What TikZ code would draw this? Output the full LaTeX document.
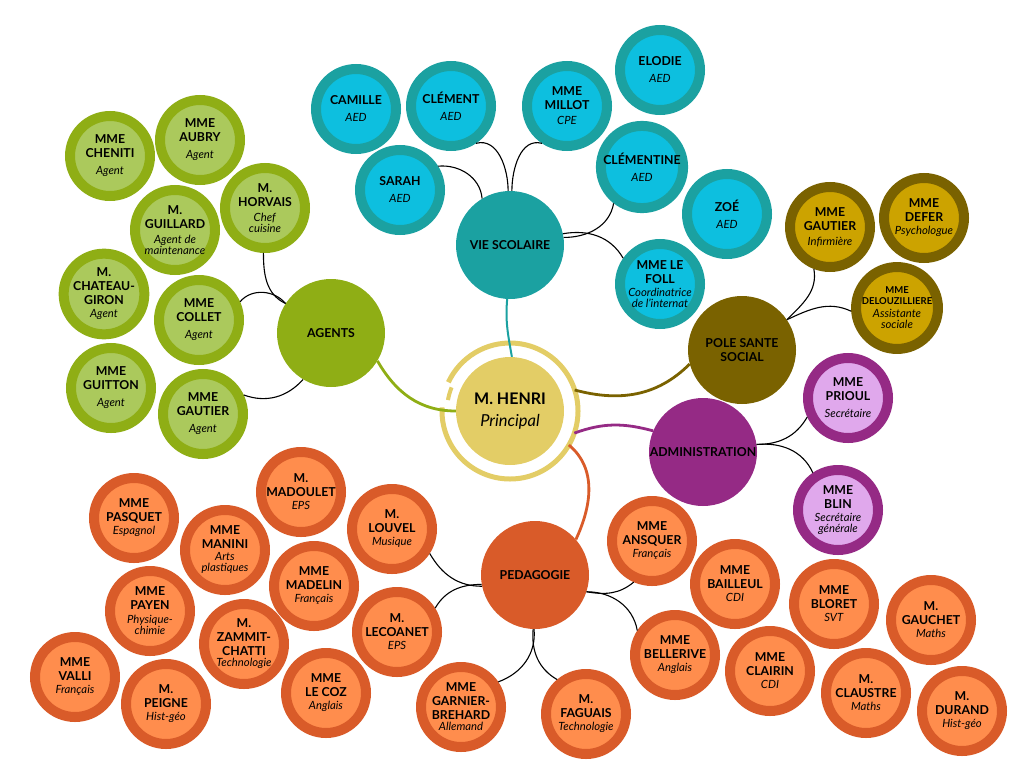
\documentclass[tikz,border=0pt]{standalone}
\usepackage{fontspec}
\setmainfont{Lato}
\definecolor{agents-green}{HTML}{8FAE15}
\definecolor{agents-light}{HTML}{ABC95C}
\definecolor{vie-teal}{HTML}{1BA1A1}
\definecolor{vie-cyan}{HTML}{0DBFDF}
\definecolor{sante-brown}{HTML}{7A6200}
\definecolor{sante-gold}{HTML}{CCA300}
\definecolor{admin-purple}{HTML}{952A85}
\definecolor{admin-pink}{HTML}{E0A8EC}
\definecolor{peda-orange}{HTML}{D95B29}
\definecolor{peda-light}{HTML}{FF8D4D}
\definecolor{henri-gold}{HTML}{E3CD66}
\newcommand\poste[1]{\textit{\mdseries\fontsize{11.3}{12}\selectfont #1}}
\tikzset{
    leaf/.style 2 args={circle, draw=#1, fill=#2, line width=10pt, minimum size=80pt,
        inner sep=0pt, align=center, font=\bfseries\fontsize{12.3}{14}\selectfont},
    agentleaf/.style={leaf={agents-green}{agents-light}},
    vieleaf/.style={leaf={vie-teal}{vie-cyan}},
    santeleaf/.style={leaf={sante-brown}{sante-gold}},
    adminleaf/.style={leaf={admin-purple}{admin-pink}},
    pedaleaf/.style={leaf={peda-orange}{peda-light}},
    hub/.style={circle, fill=#1, minimum size=108pt, inner sep=0pt, align=center,
        font=\bfseries\fontsize{12.3}{14}\selectfont},
    link/.style={black, line width=1.1pt},
    branch/.style={draw=#1, line width=2.8pt}
}

\begin{document}
\begin{tikzpicture}[x=1pt, y=-1pt]
\useasboundingbox (0,0) rectangle (1024,768);

\node[hub=henri-gold, font=\bfseries\fontsize{16}{20}\selectfont] (henri) at (510,411)
    {M. HENRI\\[2pt]\textit{\mdseries\fontsize{16.5}{18}\selectfont Principal}};
\node[circle, minimum size=136pt, inner sep=0pt, outer sep=0pt] (henriring) at (henri) {};
\draw[henri-gold, line width=5pt] ([shift={(177:68pt)}]henri.center) arc[start angle=177, end angle=515, radius=68pt];
\draw[henri-gold, line width=4pt] ([shift={(158:63pt)}]henri.center) arc[start angle=158, end angle=170, radius=63pt];

\node[hub=agents-green] (agents) at (331,333) {AGENTS};
\node[agentleaf] (cheniti) at (110,156) {MME\\CHENITI\\[3pt]\poste{Agent}};
\node[agentleaf] (aubry) at (200,140) {MME\\AUBRY\\[3pt]\poste{Agent}};
\node[agentleaf] (horvais) at (265,208) {M.\\HORVAIS\\[1pt]\poste{Chef}\\[-3pt]\poste{cuisine}};
\node[agentleaf] (guillard) at (175,230) {M.\\GUILLARD\\[1pt]\poste{Agent de}\\[-3pt]\poste{maintenance}};
\node[agentleaf] (chateaugiron) at (104,294) {M.\\CHATEAU-\\GIRON\\[-1pt]\poste{Agent}};
\node[agentleaf] (collet) at (199,320) {MME\\COLLET\\[3pt]\poste{Agent}};
\node[agentleaf] (guitton) at (111,388) {MME\\GUITTON\\[3pt]\poste{Agent}};
\node[agentleaf] (gautiera) at (203,414) {MME\\GAUTIER\\[3pt]\poste{Agent}};

\node[hub=vie-teal] (vie) at (510,245) {VIE SCOLAIRE};
\node[vieleaf] (camille) at (356,109) {CAMILLE\\[3pt]\poste{AED}};
\node[vieleaf] (clement) at (451,106) {CLÉMENT\\[3pt]\poste{AED}};
\node[vieleaf] (millot) at (567,106) {MME\\MILLOT\\[1pt]\poste{CPE}};
\node[vieleaf] (elodie) at (660,70) {ELODIE\\[3pt]\poste{AED}};
\node[vieleaf] (sarah) at (400,190) {SARAH\\[3pt]\poste{AED}};
\node[vieleaf] (clementine) at (642,167) {CLÉMENTINE\\[3pt]\poste{AED}};
\node[vieleaf] (zoe) at (727,214) {ZOÉ\\[3pt]\poste{AED}};
\node[vieleaf] (lefoll) at (660,284) {MME LE\\FOLL\\[-1pt]\poste{Coordinatrice}\\[-3pt]\poste{de l'internat}};

\node[hub=sante-brown] (sante) at (742,350) {POLE SANTE\\SOCIAL};
\node[santeleaf] (gautieri) at (830,227) {MME\\GAUTIER\\[1pt]\poste{Infirmière}};
\node[santeleaf] (defer) at (924,218) {MME\\DEFER\\[-1pt]\poste{Psychologue}};
\node[santeleaf] (delou) at (897,308) {{\fontsize{9.5}{11}\selectfont MME}\\[-3pt]{\fontsize{9.5}{11}\selectfont DELOUZILLIERE}\\[-1pt]\poste{Assistante}\\[-3pt]\poste{sociale}};

\node[hub=admin-purple] (admin) at (703,452) {ADMINISTRATION};
\node[adminleaf] (prioul) at (848,398) {MME\\PRIOUL\\[3pt]\poste{Secrétaire}};
\node[adminleaf] (blin) at (838,510) {MME\\BLIN\\[-1pt]\poste{Secrétaire}\\[-3pt]\poste{générale}};

\node[hub=peda-orange] (peda) at (535,575) {PEDAGOGIE};
\node[pedaleaf] (pasquet) at (134,518) {MME\\PASQUET\\[-1pt]\poste{Espagnol}};
\node[pedaleaf] (madoulet) at (301,492) {M.\\MADOULET\\[-1pt]\poste{EPS}};
\node[pedaleaf] (louvel) at (392,529) {M.\\LOUVEL\\[-1pt]\poste{Musique}};
\node[pedaleaf] (manini) at (225,550) {MME\\MANINI\\[-2pt]\poste{Arts}\\[-3pt]\poste{plastiques}};
\node[pedaleaf] (madelin) at (314,586) {MME\\MADELIN\\[-1pt]\poste{Français}};
\node[pedaleaf] (payen) at (150,611) {MME\\PAYEN\\[0pt]\poste{Physique-}\\[-3pt]\poste{chimie}};
\node[pedaleaf] (zammit) at (244,644) {M.\\ZAMMIT-\\CHATTI\\[-3pt]\poste{Technologie}};
\node[pedaleaf] (lecoanet) at (397,632) {M.\\LECOANET\\[-1pt]\poste{EPS}};
\node[pedaleaf] (valli) at (75,677) {MME\\VALLI\\[-1pt]\poste{Français}};
\node[pedaleaf] (peigne) at (166,704) {M.\\PEIGNE\\[-1pt]\poste{Hist-géo}};
\node[pedaleaf] (lecoz) at (326,693) {MME\\LE COZ\\[-1pt]\poste{Anglais}};
\node[pedaleaf] (ansquer) at (652,541) {MME\\ANSQUER\\[-1pt]\poste{Français}};
\node[pedaleaf] (bailleul) at (735,584) {MME\\BAILLEUL\\[-1pt]\poste{CDI}};
\node[pedaleaf] (bellerive) at (675,655) {MME\\BELLERIVE\\[-1pt]\poste{Anglais}};
\node[pedaleaf] (garnier) at (461,707) {MME\\GARNIER-\\BREHARD\\[-3pt]\poste{Allemand}};
\node[pedaleaf] (faguais) at (586,714) {M.\\FAGUAIS\\[-1pt]\poste{Technologie}};
\node[pedaleaf] (bloret) at (834,604) {MME\\BLORET\\[-1pt]\poste{SVT}};
\node[pedaleaf] (gauchet) at (931,620) {M.\\GAUCHET\\[-1pt]\poste{Maths}};
\node[pedaleaf] (clairin) at (770,671) {MME\\CLAIRIN\\[-1pt]\poste{CDI}};
\node[pedaleaf] (claustre) at (866,693) {M.\\CLAUSTRE\\[-1pt]\poste{Maths}};
\node[pedaleaf] (durand) at (962,711) {M.\\DURAND\\[-1pt]\poste{Hist-géo}};

\draw[link] (horvais.268) to[out=-90, in=155] (agents.147);
\draw[link] (collet.24) to[out=50, in=130] (agents.147);
\draw[link] (gautiera.25) to[out=-20, in=228] (agents.239);
\draw[branch=agents-green] (agents.-31) to[out=-60, in=180] (henri.180);

\draw[link] (sarah.32) to[out=5, in=95] (vie.121);
\draw[link] (clement.-56) to[out=15, in=90] (vie.92);
\draw[link] (millot.236) to[out=165, in=90] (vie.88);
\draw[link] (clementine.232) to[out=-100, in=0] (vie.8);
\draw[link] (lefoll.145) to[out=120, in=10] (vie.12);
\draw[branch=vie-teal, line width=2pt] (vie.-93) to[out=-95, in=100] (henri.88);

\draw[link] (gautieri.249) to[out=-80, in=45] (sante.34);
\draw[link] (delou.184) to[out=155, in=25] (sante.34);
\draw[branch=sante-brown] (sante.195) to[out=225, in=-15] (henriring.18);

\draw[link] (prioul.205) to[out=240, in=0] (admin.8);
\draw[link] (blin.124) to[out=115, in=5] (admin.8);
\draw[branch=admin-purple] (admin.157) to[out=165, in=20] (henriring.-19);

\draw[branch=peda-orange] (henriring.-30) to[out=-40, in=65] (peda.41);
\draw[link] (louvel.-33) to[out=-60, in=180] (peda.192);
\draw[link] (lecoanet.32) to[out=60, in=180] (peda.190);
\draw[link] (garnier.34) to[out=20, in=-85] (peda.269);
\draw[link] (faguais.130) to[out=150, in=-95] (peda.268);
\draw[link] (ansquer.246) to[out=220, in=-10] (peda.-18);
\draw[link] (bellerive.147) to[out=100, in=0] (peda.-18);
\end{tikzpicture}
\end{document}
